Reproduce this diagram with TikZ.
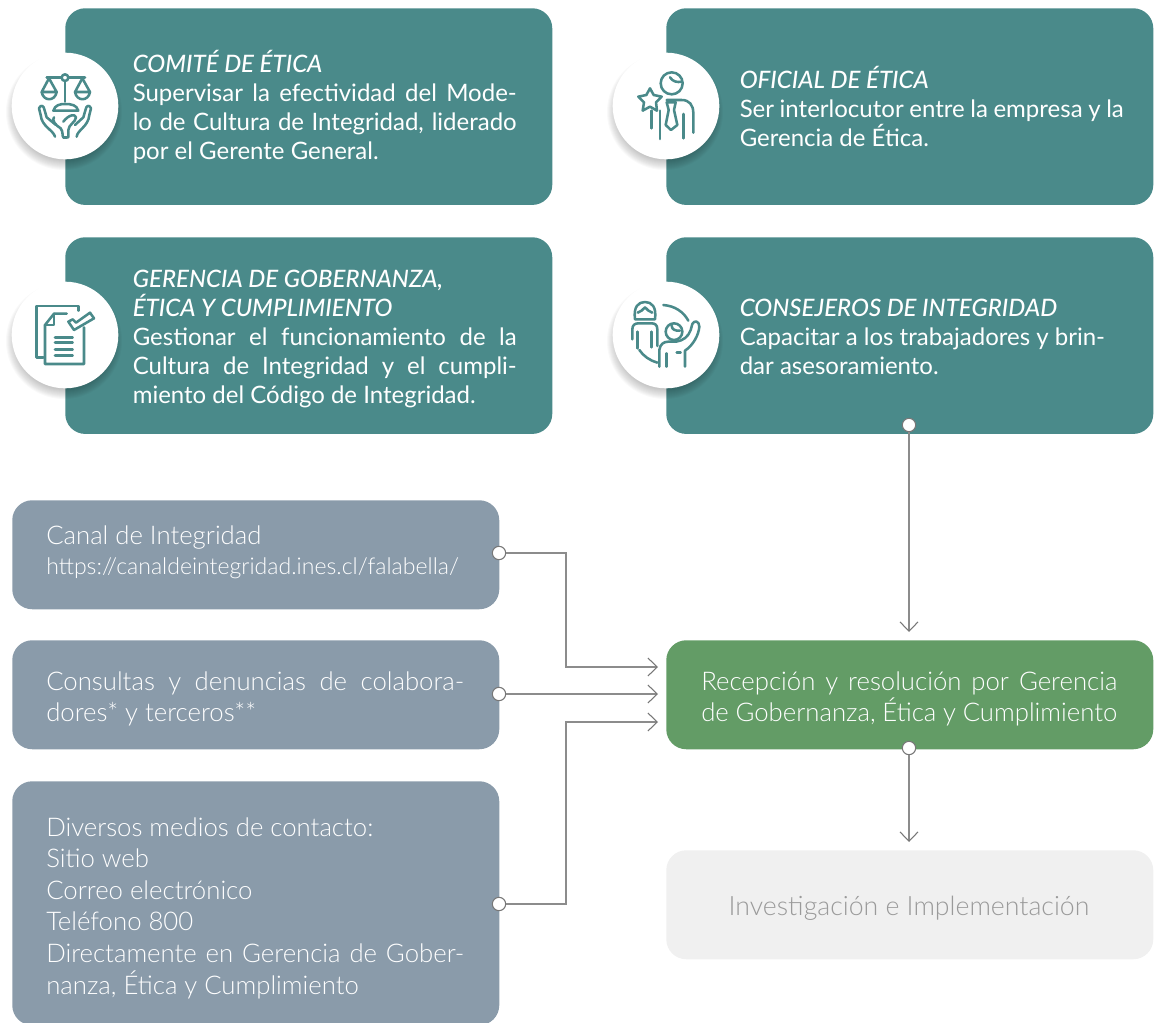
\documentclass[tikz,border=0pt]{standalone}
\usepackage{fontspec}
\usetikzlibrary{arrows.meta}
\setmainfont{Lato}
\newfontfamily\lightf{Lato Light}
\newfontfamily\headf[ItalicFont={Lato Medium Italic}]{Lato Medium}
\definecolor{tealbox}{HTML}{4A8A8A}
\definecolor{slatebox}{HTML}{8A9BAA}
\definecolor{greenbox}{HTML}{639C66}
\definecolor{palebox}{HTML}{F0F0F0}
\definecolor{paletext}{HTML}{9A9A9A}
\definecolor{conn}{HTML}{8C8C8C}
\newcommand\lnj[2][288pt]{\hbox to #1{#2}}
\newcommand\lnl[2][288pt]{\hbox to #1{#2\hfil}}
\newcommand\headline[1]{\lnl{\headf\itshape\fontsize{18}{21.75}\selectfont #1}}
\newcommand\stacked[1]{\vbox{\parskip=0pt #1}}
\tikzset{
  card/.style={draw=none,rounded corners=15pt,inner sep=0pt,anchor=north west,minimum width=365.25pt},
  tealcard/.style={card,fill=tealbox,minimum height=147.5pt},
  slatecard/.style={card,fill=slatebox},
  tealtext/.style={anchor=west,inner sep=0pt,text=white,font=\fontsize{18}{21.75}\selectfont},
  slatetext/.style={anchor=west,inner sep=0pt,text=white,font=\fontsize{19.3}{23.7}\selectfont\lightf},
  badge/.style={circle,fill=white,minimum size=80pt,inner sep=0pt},
  port/.style={circle,draw=conn!85!black,fill=white,line width=.8pt,minimum size=10pt,inner sep=0pt},
  link/.style={draw=conn,line width=.8pt},
  arrowlink/.style={link,-{Straight Barb[length=7pt,width=13.5pt,line width=.8pt,color=conn!85!black]}},
  icon/.style={draw=tealbox,line width=1.9pt,line cap=round,line join=round},
  iconframe/.style={x=.25pt,y=-.25pt},
}
\begin{document}
\begin{tikzpicture}[x=.75pt,y=-.75pt]
\useasboundingbox (0,0) rectangle (1163,1023);
% teal cards
\node[tealcard] (c1) at (65,8) {};
\node[tealcard] (c2) at (666,8) {};
\node[tealcard] (c3) at (65,237) {};
\node[tealcard] (c4) at (666,237) {};
% teal texts
\node[tealtext] (t1) at (132.5,106.5) {\stacked{\headline{COMITÉ DE ÉTICA}\lnj{Supervisar la efectividad del Mode-}\lnj{lo de Cultura de Integridad, liderado}\lnl{por el Gerente General.}}};
\node[tealtext] (t2) at (739.5,106) {\stacked{\headline{OFICIAL DE ÉTICA}\lnj{Ser interlocutor entre la empresa y la}\lnl{Gerencia de Ética.}}};
\node[tealtext] (t3) at (132.5,338.5) {\stacked{\headline{GERENCIA DE GOBERNANZA,}\headline{ÉTICA Y CUMPLIMIENTO}\lnj{Gestionar el funcionamiento de la}\lnj{Cultura de Integridad y el cumpli-}\lnl{miento del Código de Integridad.}}};
\node[tealtext] (t4) at (739.5,337) {\stacked{\headline{CONSEJEROS DE INTEGRIDAD}\lnl{Capacitar a los trabajadores y brin-}\lnl{dar asesoramiento.}}};
% badge shadows and badges
\foreach \cx/\cy in {65/106,666/106,65/335,666/335}{
  \foreach \rr in {58,57,...,46}{
    \fill[black,opacity=.024] (\cx-1,\cy+6) circle[radius=\rr];
  }
}
\node[badge] (b1) at (65,106) {};
\node[badge] (b2) at (666,106) {};
\node[badge] (b3) at (65,335) {};
\node[badge] (b4) at (666,335) {};
% icon 1: scales in hands
\begin{scope}[shift={(0,30)},iconframe]
  \draw[icon] (140,143)--(184,143) (206,143)--(255,143);
  \draw[icon] (195,143) circle[radius=10];
  \draw[icon] (195,153)--(195,215);
  \draw[icon] (147,145)--(125,186)--(170,186)--cycle;
  \draw[icon] (125,186) .. controls (130,215) and (165,215) .. (170,186);
  \draw[icon] (247,145)--(225,186)--(270,186)--cycle;
  \draw[icon] (225,186) .. controls (230,215) and (265,215) .. (270,186);
  \draw[icon] (160,242) .. controls (165,225) and (180,222) .. (195,222) .. controls (215,222) and (230,225) .. (235,242) -- cycle;
  \draw[icon] (162,262) .. controls (155,270) and (165,285) .. (182,295) .. controls (190,305) and (186,318) .. (190,322);
  \draw[icon] (165,320) .. controls (160,300) and (125,290) .. (122,255) -- (117,235) .. controls (122,222) and (132,228) .. (133,238) -- (140,262) -- (168,285);
  \draw[icon] (190,322) -- (200,322);
  \draw[icon] (230,320) .. controls (232,300) and (265,290) .. (268,255) -- (273,235) .. controls (268,222) and (258,228) .. (257,238) -- (250,262) -- (225,285);
  \draw[icon] (190,275) .. controls (205,255) and (225,250) .. (228,262) .. controls (228,275) and (205,285) .. (205,300) -- (205,322) -- (192,322);
\end{scope}
% icon 2: officer with star
\begin{scope}[shift={(600,40)},iconframe]
  \draw[icon] (215,130) circle[radius=33];
  \draw[icon] (210,112) .. controls (218,125) and (232,128) .. (245,125);
  \draw[icon] (200,180) -- (245,180) .. controls (268,180) and (280,195) .. (280,220) -- (280,278);
  \draw[icon] (250,222) -- (250,295);
  \draw[icon] (155,212) -- (155,265);
  \draw[icon] (180,212) -- (180,297);
  \draw[icon] (200,187) -- (227,187) -- (222,210) -- (232,255) -- (213,270) -- (197,255) -- (206,210) -- cycle;
  \draw[icon] (150,145) -- (161,165) -- (185,170) -- (168,187) -- (171,212) -- (150,200) -- (128,212) -- (132,187) -- (115,170) -- (139,165) -- cycle;
\end{scope}
% icon 3: documents with check
\begin{scope}[shift={(0,270)},iconframe]
  \draw[icon] (130,262) -- (110,262) -- (110,108) -- (235,108) -- (235,122);
  \draw[icon] (200,131) -- (162,131) -- (135,165) -- (135,282) -- (252,282) -- (252,172);
  \draw[icon] (135,165) -- (162,165) -- (162,131);
  \draw[icon] (165,203) -- (218,203) (165,218) -- (218,218) (165,238) -- (218,238) (165,256) -- (218,256);
  \draw[icon] (205,155) -- (218,148) -- (228,158) -- (270,128) -- (282,145) -- (222,180) -- cycle;
\end{scope}
% icon 4: counsellor and raised hand
\begin{scope}[shift={(600,270)},iconframe]
  \draw[icon] (105,148) .. controls (100,110) and (115,96) .. (135,96) .. controls (155,96) and (170,110) .. (165,148) -- cycle;
  \draw[icon] (113,128) .. controls (120,125) and (130,120) .. (135,112) .. controls (140,120) and (150,125) .. (157,128);
  \draw[icon] (97,208) -- (97,178) .. controls (97,165) and (105,160) .. (115,160) -- (155,160) .. controls (165,160) and (172,165) .. (172,178) -- (172,228);
  \draw[icon] (112,185) -- (112,235) (155,185) -- (155,232);
  \draw[icon] (190,105) .. controls (225,108) and (250,125) .. (265,152);
  \draw[icon] (118,240) .. controls (130,258) and (150,272) .. (172,278);
  \draw[icon] (222,185) circle[radius=25];
  \draw[icon] (215,167) .. controls (215,178) and (225,183) .. (240,182);
  \draw[icon] (178,290) -- (178,240) .. controls (180,222) and (192,215) .. (205,215) -- (228,215) .. controls (250,212) and (265,200) .. (272,180) -- (277,162) .. controls (282,150) and (298,152) .. (298,170) .. controls (296,195) and (280,225) .. (255,242) -- (255,290);
  \draw[icon] (200,250) -- (200,290) (230,248) -- (242,248);
\end{scope}
% slate cards
\node[slatecard,minimum height=81.75pt] (s1) at (12,500) {};
\node[slatecard,minimum height=81.75pt] (s2) at (12,640) {};
\node[slatecard,minimum height=183pt] (s3) at (12,781) {};
\node[slatetext] (st1) at (46,552) {\stacked{\lnl[313.5pt]{Canal de Integridad}\vskip-1.5pt\lnl[313.5pt]{\fontsize{17.3}{20}\selectfont https://canaldeintegridad.ines.cl/falabella/}}};
\node[slatetext] (st2) at (46,699) {\stacked{\lnj[313.5pt]{Consultas y denuncias de colabora-}\lnl[313.5pt]{dores* y terceros**}}};
\node[slatetext] (st3) at (46,908) {\stacked{\lnl[313.5pt]{Diversos medios de contacto:}\lnl[313.5pt]{Sitio web}\lnl[313.5pt]{Correo electrónico}\lnl[313.5pt]{Teléfono 800}\lnj[313.5pt]{Directamente en Gerencia de Gober-}\lnl[313.5pt]{nanza, Ética y Cumplimiento}}};
% green and pale cards
\node[card,fill=greenbox,minimum height=81.75pt] (g) at (666,640) {};
\node[anchor=west,inner sep=0pt,text=white,font=\fontsize{19.3}{23.7}\selectfont\lightf] (gt) at (701,699) {\stacked{\lnj[312pt]{Recepción y resolución por Gerencia}\lnj[312pt]{de Gobernanza, Ética y Cumplimiento}}};
\node[card,fill=palebox,minimum height=81.75pt] (p) at (666,850) {};
\node[text=paletext,inner sep=0pt,font=\fontsize{20}{23.7}\selectfont\lightf] (pt) at (909,908) {Investigación e Implementación};
% connector ports and ends
\node[port] (pc4) at (909,425) {};
\node[port] (ps1) at (499,553) {};
\node[port] (ps2) at (499,694) {};
\node[port] (ps3) at (499,904) {};
\node[port] (pg) at (909,748) {};
\coordinate (in1) at (658,667);
\coordinate (in2) at (658,694);
\coordinate (in3) at (658,722);
\coordinate (top) at (909,632);
\coordinate (pin) at (909,842);
\draw[arrowlink] (pc4) -- (top);
\draw[arrowlink] (pg) -- (pin);
\draw[arrowlink] (ps1) -- (566,553) -- (566,667) -- (in1);
\draw[arrowlink] (ps2) -- (in2);
\draw[arrowlink] (ps3) -- (566,904) -- (566,722) -- (in3);
\end{tikzpicture}
\end{document}
